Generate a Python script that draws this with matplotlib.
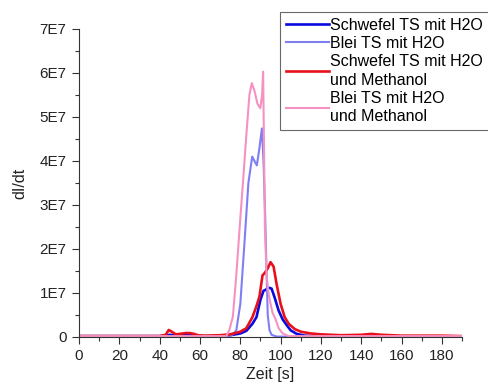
import matplotlib.pyplot as plt
from matplotlib.ticker import MultipleLocator, FuncFormatter

plt.rcParams['font.family'] = ['Liberation Sans', 'DejaVu Sans']

# ==[1] Data (y values in units of 1E7)
x_s_h2o = [0, 10, 20, 30, 40, 43, 45, 48, 52, 55, 58, 62, 70, 75, 80, 83, 86, 88, 90,
           91.5, 92.5, 94, 95.5, 97, 99, 101, 103, 105, 108, 112, 120, 140, 160, 190]
y_s_h2o = [0.02, 0.02, 0.02, 0.02, 0.02, 0.03, 0.05, 0.03, 0.05, 0.06, 0.03, 0.02, 0.02,
           0.04, 0.08, 0.14, 0.3, 0.45, 0.85, 1.05, 1.07, 1.12, 1.1, 0.9, 0.6, 0.4, 0.27,
           0.15, 0.07, 0.03, 0.01, 0.01, 0.01, 0.01]

x_b_h2o = [0, 20, 40, 60, 72, 74, 76, 78, 80, 82, 83, 84, 85.9, 87, 88.2, 89.5, 90.7,
           91.5, 92.3, 93, 93.6, 94.5, 95.5, 98, 120, 190]
y_b_h2o = [0, 0, 0, 0, 0, 0.01, 0.05, 0.15, 0.75, 2.1, 2.8, 3.5, 4.1, 4.0, 3.9, 4.3, 4.74,
           4.0, 2.8, 1.5, 0.5, 0.15, 0.05, 0.01, 0, 0]

x_s_meoh = [0, 20, 40, 43, 44.5, 46, 48, 50, 53, 55, 57, 59, 62, 70, 75, 80, 83, 86, 88,
            89.5, 91, 92, 93.5, 95, 96.5, 98, 100, 102, 104, 107, 110, 115, 120, 130,
            140, 145, 150, 160, 180, 190]
y_s_meoh = [0.02, 0.02, 0.02, 0.05, 0.16, 0.12, 0.06, 0.07, 0.09, 0.09, 0.07, 0.04, 0.03,
            0.04, 0.06, 0.12, 0.2, 0.45, 0.7, 0.92, 1.4, 1.45, 1.55, 1.7, 1.6, 1.2, 0.75,
            0.45, 0.3, 0.18, 0.12, 0.08, 0.06, 0.04, 0.05, 0.07, 0.05, 0.03, 0.03, 0.02]

x_b_meoh = [0, 40, 60, 70, 73, 74.5, 76.3, 78, 80, 81.3, 83, 84.5, 85.7, 87, 88.5, 89.9,
            90.8, 91.3, 91.7, 92.2, 93, 94, 95, 96, 97.5, 99, 101, 104, 190]
y_b_meoh = [0.02, 0.02, 0.02, 0.02, 0.02, 0.15, 0.46, 1.4, 2.7, 3.5, 4.6, 5.5, 5.77, 5.6,
            5.3, 5.2, 5.5, 6.03, 4.5, 2.5, 1.4, 1.0, 0.75, 0.55, 0.4, 0.2, 0.08, 0.02, 0.02]

labels = ['Schwefel TS mit H2O', 'Blei TS mit H2O',
          'Schwefel TS mit H2O\nund Methanol', 'Blei TS mit H2O\nund Methanol']

# ==[2] Plot
fig = plt.figure(figsize=(4.89, 3.85), dpi=100)
ax = fig.add_axes([0.1616, 0.1247, 0.7834, 0.8])

ax.plot(x_s_h2o, [v * 1e7 for v in y_s_h2o], color='#0a0ae0', lw=1.9, label=labels[0])
ax.plot(x_b_h2o, [v * 1e7 for v in y_b_h2o], color='#7f7ff5', lw=1.5, label=labels[1])
ax.plot(x_s_meoh, [v * 1e7 for v in y_s_meoh], color='#e8101a', lw=1.9, label=labels[2])
ax.plot(x_b_meoh, [v * 1e7 for v in y_b_meoh], color='#f592c2', lw=1.5, label=labels[3])

ax.set_xlim(0, 190)
ax.set_ylim(0, 7e7)
ax.xaxis.set_major_locator(MultipleLocator(20))
ax.xaxis.set_minor_locator(MultipleLocator(10))
ax.yaxis.set_major_locator(MultipleLocator(1e7))
ax.yaxis.set_minor_locator(MultipleLocator(5e6))
ax.yaxis.set_major_formatter(FuncFormatter(lambda v, p: '0' if v == 0 else f'{int(round(v / 1e7))}E7'))

for s in ['top', 'right']:
    ax.spines[s].set_visible(False)
for s in ['left', 'bottom']:
    ax.spines[s].set_color('#333333')
ax.tick_params(which='major', direction='out', length=5, width=0.8, labelsize=11,
               color='#333333', labelcolor='#222222', pad=4)
ax.tick_params(which='minor', direction='out', length=3, width=0.8, color='#333333')

ax.set_xlabel('Zeit [s]', fontsize=11.5, color='#222222', labelpad=2.5)
ax.set_ylabel('dI/dt', fontsize=11.5, color='#222222', labelpad=9)

leg = fig.legend(loc='upper left', bbox_to_anchor=(280 / 489, 1 - 12 / 385),
                 fontsize=11.5, frameon=True, fancybox=False, handlelength=2.7,
                 handletextpad=0.1, labelspacing=0.2, borderpad=0.35, borderaxespad=0)
for t in leg.get_texts():
    t.set_linespacing(1.3)
leg.get_frame().set_edgecolor('#444444')
leg.get_frame().set_linewidth(0.8)

fig.savefig('out.png', dpi=100)
